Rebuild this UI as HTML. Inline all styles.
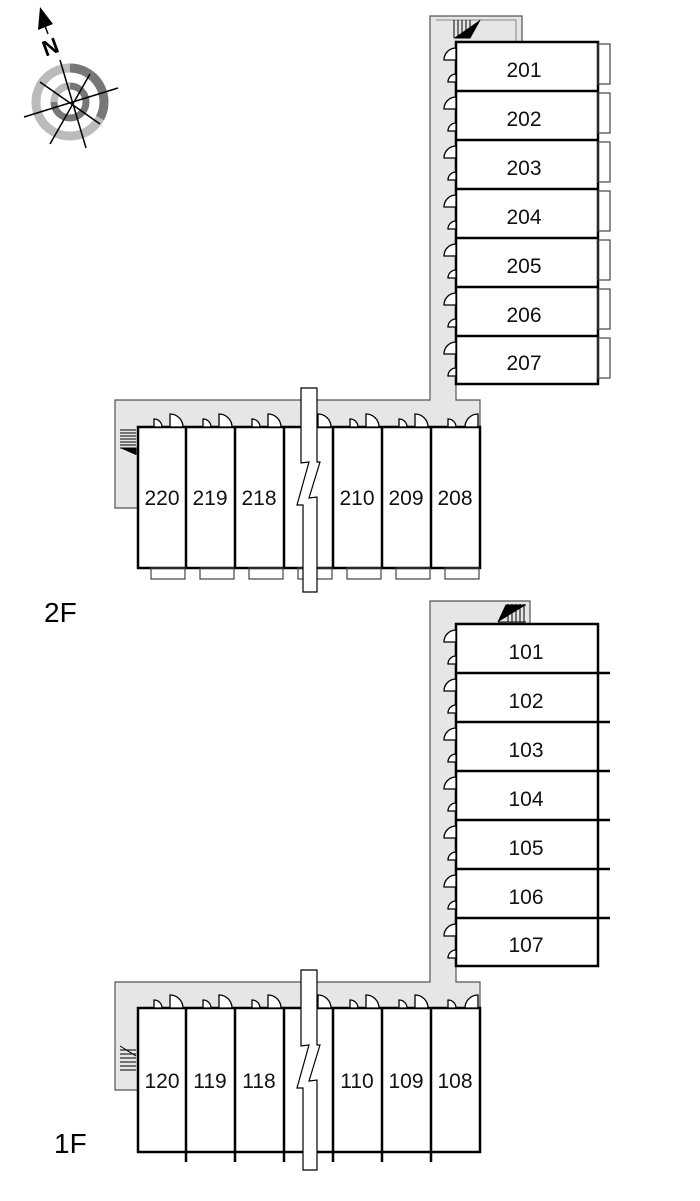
<!DOCTYPE html>
<html><head><style>body{margin:0;background:#fff}svg{display:block}text{font-family:"Liberation Sans",sans-serif}</style></head>
<body>
<svg width="700" height="1201" viewBox="0 0 700 1201">
<!-- compass -->
<g transform="translate(70,102)">
<circle r="34" fill="none" stroke="#bbb" stroke-width="9"/>
<path d="M0,-34 A34,34 0 0 1 30,16" fill="none" stroke="#777" stroke-width="9"/>
<circle r="16" fill="none" stroke="#777" stroke-width="7"/>
<path d="M-16,0 A16,16 0 0 1 0,-16" fill="none" stroke="#bbb" stroke-width="7"/>
<line x1="-46" y1="15" x2="48" y2="-14" stroke="#000" stroke-width="1.5"/>
<line x1="-30" y1="-20" x2="30" y2="22" stroke="#000" stroke-width="1.5"/>
<line x1="20" y1="-28" x2="-20" y2="42" stroke="#000" stroke-width="1.5"/>
</g>
<line x1="60" y1="60" x2="86" y2="148" stroke="#000" stroke-width="1.5"/>
<polygon points="40,7 38,30 53,24" fill="#000"/>
<line x1="45" y1="26" x2="48" y2="34" stroke="#000" stroke-width="1.5"/>
<g transform="translate(53,54) rotate(-20)"><text x="0" y="0" font-size="22" font-weight="bold" font-family="Liberation Serif" text-anchor="middle">N</text></g>

<!-- 2F vertical corridor -->
<path d="M430,16 H522 V42 H456 V400 H480 V427 H138 V508 H115 V400 H430 Z" fill="#e6e6e6" stroke="#555" stroke-width="1.2"/>
<path d="M436,20 H516 V42" fill="none" stroke="#888" stroke-width="1"/>
<g stroke="#000" stroke-width="1"><path d="M454,20 V38 M458,20 V38 M462,20 V38 M466,20 V38 M470,20 V38 M454,38 H470 L480,20"/></g>
<g fill="#fff" stroke="#000" stroke-width="2.5">
<rect x="456" y="42" width="142" height="342"/>
</g>
<g stroke="#000" stroke-width="2.5"><path d="M456,91H598M456,140H598M456,189H598M456,238H598M456,287H598M456,336H598"/></g>
<g fill="none" stroke="#444" stroke-width="1.2">
<rect x="598" y="44" width="12" height="40"/><rect x="598" y="93" width="12" height="40"/><rect x="598" y="142" width="12" height="40"/><rect x="598" y="191" width="12" height="40"/><rect x="598" y="240" width="12" height="40"/><rect x="598" y="289" width="12" height="40"/><rect x="598" y="338" width="12" height="40"/>
</g>
<g font-size="21" text-anchor="middle" fill="#111">
<text x="524" y="77">201</text><text x="524" y="126">202</text><text x="524" y="175">203</text><text x="524" y="224">204</text><text x="524" y="273">205</text><text x="524" y="322">206</text><text x="524" y="370">207</text>
</g>
<g fill="#fff" stroke="#000" stroke-width="1.3">
<path d="M456,60 h-12 a12,12 0 0 1 12,-12z"/><path d="M456,82 h-8 a8,8 0 0 1 8,-8z"/>
<path d="M456,109 h-12 a12,12 0 0 1 12,-12z"/><path d="M456,131 h-8 a8,8 0 0 1 8,-8z"/>
<path d="M456,158 h-12 a12,12 0 0 1 12,-12z"/><path d="M456,180 h-8 a8,8 0 0 1 8,-8z"/>
<path d="M456,207 h-12 a12,12 0 0 1 12,-12z"/><path d="M456,229 h-8 a8,8 0 0 1 8,-8z"/>
<path d="M456,256 h-12 a12,12 0 0 1 12,-12z"/><path d="M456,278 h-8 a8,8 0 0 1 8,-8z"/>
<path d="M456,305 h-12 a12,12 0 0 1 12,-12z"/><path d="M456,327 h-8 a8,8 0 0 1 8,-8z"/>
<path d="M456,354 h-12 a12,12 0 0 1 12,-12z"/><path d="M456,376 h-8 a8,8 0 0 1 8,-8z"/>
</g>
<!-- 2F horizontal -->
<g fill="#fff" stroke="#000" stroke-width="2.5"><rect x="138" y="427" width="342" height="141"/></g>
<g stroke="#000" stroke-width="2.5"><path d="M186,427V568M235,427V568M284,427V568M333,427V568M382,427V568M431,427V568"/></g>
<g stroke="#000" stroke-width="1"><path d="M120,430H136M120,433H136M120,436H136M120,439H136M120,442H136M120,445H136M120,448H136 L136,455"/></g>
<g fill="none" stroke="#444" stroke-width="1.2">
<rect x="151" y="568" width="34" height="11"/><rect x="200" y="568" width="34" height="11"/><rect x="249" y="568" width="34" height="11"/><rect x="298" y="568" width="34" height="11"/><rect x="347" y="568" width="34" height="11"/><rect x="396" y="568" width="34" height="11"/><rect x="445" y="568" width="34" height="11"/>
</g>
<g fill="#fff" stroke="#000" stroke-width="1.3">
<path d="M154,427v-8a8,8 0 0 1 8,8z"/><path d="M170,427v-13a13,13 0 0 1 13,13z"/>
<path d="M203,427v-8a8,8 0 0 1 8,8z"/><path d="M219,427v-13a13,13 0 0 1 13,13z"/>
<path d="M252,427v-8a8,8 0 0 1 8,8z"/><path d="M268,427v-13a13,13 0 0 1 13,13z"/>
<path d="M318,427v-13a13,13 0 0 1 13,13z"/>
<path d="M350,427v-8a8,8 0 0 1 8,8z"/><path d="M366,427v-13a13,13 0 0 1 13,13z"/>
<path d="M399,427v-8a8,8 0 0 1 8,8z"/><path d="M415,427v-13a13,13 0 0 1 13,13z"/>
<path d="M448,427v-8a8,8 0 0 1 8,8z"/><path d="M478,427h-13a13,13 0 0 1 13,-13z"/>
</g>
<path d="M301,388 V463 L309,462 L297,505 L303,505 V592 H317 V497 L309,498 L320,462 L317,462 V388 Z" fill="#fff" stroke="#000" stroke-width="1.2"/>
<g font-size="21" text-anchor="middle" fill="#111">
<text x="162" y="505">220</text><text x="210" y="505">219</text><text x="259" y="505">218</text><text x="357" y="505">210</text><text x="406" y="505">209</text><text x="455" y="505">208</text>
</g>
<text x="44" y="622" font-size="28">2F</text>

<!-- 1F -->
<path d="M430,601 H530 V624 H456 V982 H480 V1008 H138 V1090 H115 V982 H430 Z" fill="#e6e6e6" stroke="#555" stroke-width="1.2"/>
<g stroke="#000" stroke-width="1"><path d="M508,604V622M512,604V622M516,604V622M520,604V622M524,604V622M498,622H526M498,622L506,605H526"/></g>
<g fill="#fff" stroke="#000" stroke-width="2.5"><rect x="456" y="624" width="142" height="342"/></g>
<g stroke="#000" stroke-width="2.5"><path d="M456,673H610M456,722H610M456,771H610M456,820H610M456,869H610M456,918H610"/></g>
<g fill="#fff" stroke="#000" stroke-width="1.3">
<path d="M456,642 h-12 a12,12 0 0 1 12,-12z"/><path d="M456,664 h-8 a8,8 0 0 1 8,-8z"/>
<path d="M456,691 h-12 a12,12 0 0 1 12,-12z"/><path d="M456,713 h-8 a8,8 0 0 1 8,-8z"/>
<path d="M456,740 h-12 a12,12 0 0 1 12,-12z"/><path d="M456,762 h-8 a8,8 0 0 1 8,-8z"/>
<path d="M456,789 h-12 a12,12 0 0 1 12,-12z"/><path d="M456,811 h-8 a8,8 0 0 1 8,-8z"/>
<path d="M456,838 h-12 a12,12 0 0 1 12,-12z"/><path d="M456,860 h-8 a8,8 0 0 1 8,-8z"/>
<path d="M456,887 h-12 a12,12 0 0 1 12,-12z"/><path d="M456,909 h-8 a8,8 0 0 1 8,-8z"/>
<path d="M456,936 h-12 a12,12 0 0 1 12,-12z"/><path d="M456,958 h-8 a8,8 0 0 1 8,-8z"/>
</g>
<g font-size="21" text-anchor="middle" fill="#111">
<text x="526" y="659">101</text><text x="526" y="708">102</text><text x="526" y="757">103</text><text x="526" y="806">104</text><text x="526" y="855">105</text><text x="526" y="904">106</text><text x="526" y="952">107</text>
</g>
<g fill="#fff" stroke="#000" stroke-width="2.5"><rect x="138" y="1008" width="342" height="144"/></g>
<g stroke="#000" stroke-width="2.5"><path d="M186,1008V1162M235,1008V1162M284,1008V1162M333,1008V1162M382,1008V1162M431,1008V1162"/></g>
<g stroke="#000" stroke-width="1"><path d="M120,1050H136M120,1054H136M120,1058H136M120,1062H136M120,1066H136M120,1070H136M120,1046L136,1056"/></g>
<g fill="#fff" stroke="#000" stroke-width="1.3">
<path d="M154,1008v-8a8,8 0 0 1 8,8z"/><path d="M170,1008v-13a13,13 0 0 1 13,13z"/>
<path d="M203,1008v-8a8,8 0 0 1 8,8z"/><path d="M219,1008v-13a13,13 0 0 1 13,13z"/>
<path d="M252,1008v-8a8,8 0 0 1 8,8z"/><path d="M268,1008v-13a13,13 0 0 1 13,13z"/>
<path d="M318,1008v-13a13,13 0 0 1 13,13z"/>
<path d="M350,1008v-8a8,8 0 0 1 8,8z"/><path d="M366,1008v-13a13,13 0 0 1 13,13z"/>
<path d="M399,1008v-8a8,8 0 0 1 8,8z"/><path d="M415,1008v-13a13,13 0 0 1 13,13z"/>
<path d="M448,1008v-8a8,8 0 0 1 8,8z"/><path d="M478,1008h-13a13,13 0 0 1 13,-13z"/>
</g>
<path d="M301,970 V1046 L309,1045 L297,1088 L303,1088 V1170 H317 V1080 L309,1081 L320,1045 L317,1045 V970 Z" fill="#fff" stroke="#000" stroke-width="1.2"/>
<g font-size="21" text-anchor="middle" fill="#111">
<text x="162" y="1088">120</text><text x="210" y="1088">119</text><text x="259" y="1088">118</text><text x="357" y="1088">110</text><text x="406" y="1088">109</text><text x="455" y="1088">108</text>
</g>
<text x="54" y="1153" font-size="28">1F</text>
</svg>
</body></html>
